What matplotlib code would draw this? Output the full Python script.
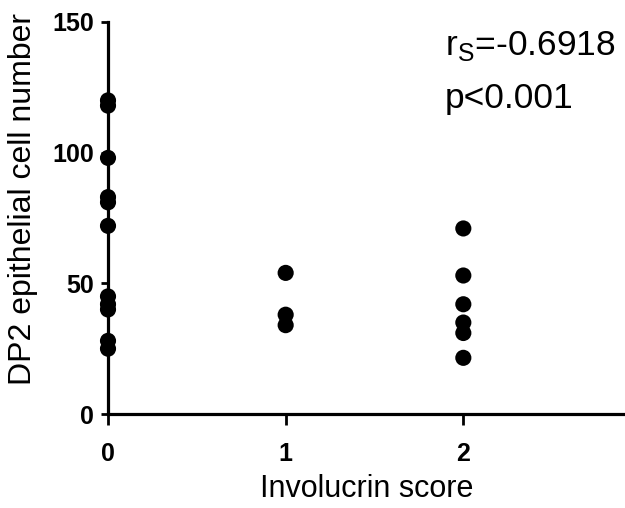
import numpy as np
import matplotlib
matplotlib.use("Agg")
import matplotlib.pyplot as plt

plt.rcParams['font.family'] = ['Liberation Sans', 'DejaVu Sans']

# --- Data ---
score_0 = [120, 118, 98, 83, 81, 72, 45, 42, 40, 28, 25]
score_1 = [54, 38, 34]
score_2 = [71, 53, 42, 35, 31, 21.5]

x_vals = [0] * len(score_0) + [1] * len(score_1) + [2] * len(score_2)
y_vals = score_0 + score_1 + score_2

# --- Plot ---
fig = plt.figure(figsize=(6.25, 5.08), dpi=100)
ax = fig.add_axes([0.1728, 0.185, 0.8272, 0.7717])

ax.scatter(x_vals, y_vals, s=135, c='black', edgecolors='none',
           zorder=5, clip_on=False)

ax.set_xlim(0, 2.91)
ax.set_ylim(0, 150)
ax.set_xticks([0, 1, 2])
ax.set_yticks([0, 50, 100, 150])

for side in ['top', 'right']:
    ax.spines[side].set_visible(False)
for side in ['left', 'bottom']:
    ax.spines[side].set_linewidth(2.3)

ax.tick_params(axis='y', direction='out', length=5, width=2,
               labelsize=18, pad=5)
ax.tick_params(axis='x', direction='out', length=8, width=2,
               labelsize=18, pad=12)
for lbl in ax.get_xticklabels() + ax.get_yticklabels():
    lbl.set_fontweight('bold')

ax.set_xlabel("Involucrin score", fontsize=22)
ax.xaxis.set_label_coords(0.5, -0.152)
ax.set_ylabel("DP2 epithelial cell number", fontsize=23)
ax.yaxis.set_label_coords(-0.135, 0.548)

ax.text(0.652, 0.916, r"r$_\mathregular{S}$=-0.6918", transform=ax.transAxes,
        fontsize=25.5, va='baseline', ha='left')
ax.text(0.652, 0.781, "p<0.001", transform=ax.transAxes,
        fontsize=25.5, va='baseline', ha='left')

plt.savefig("out.png", dpi=100)
